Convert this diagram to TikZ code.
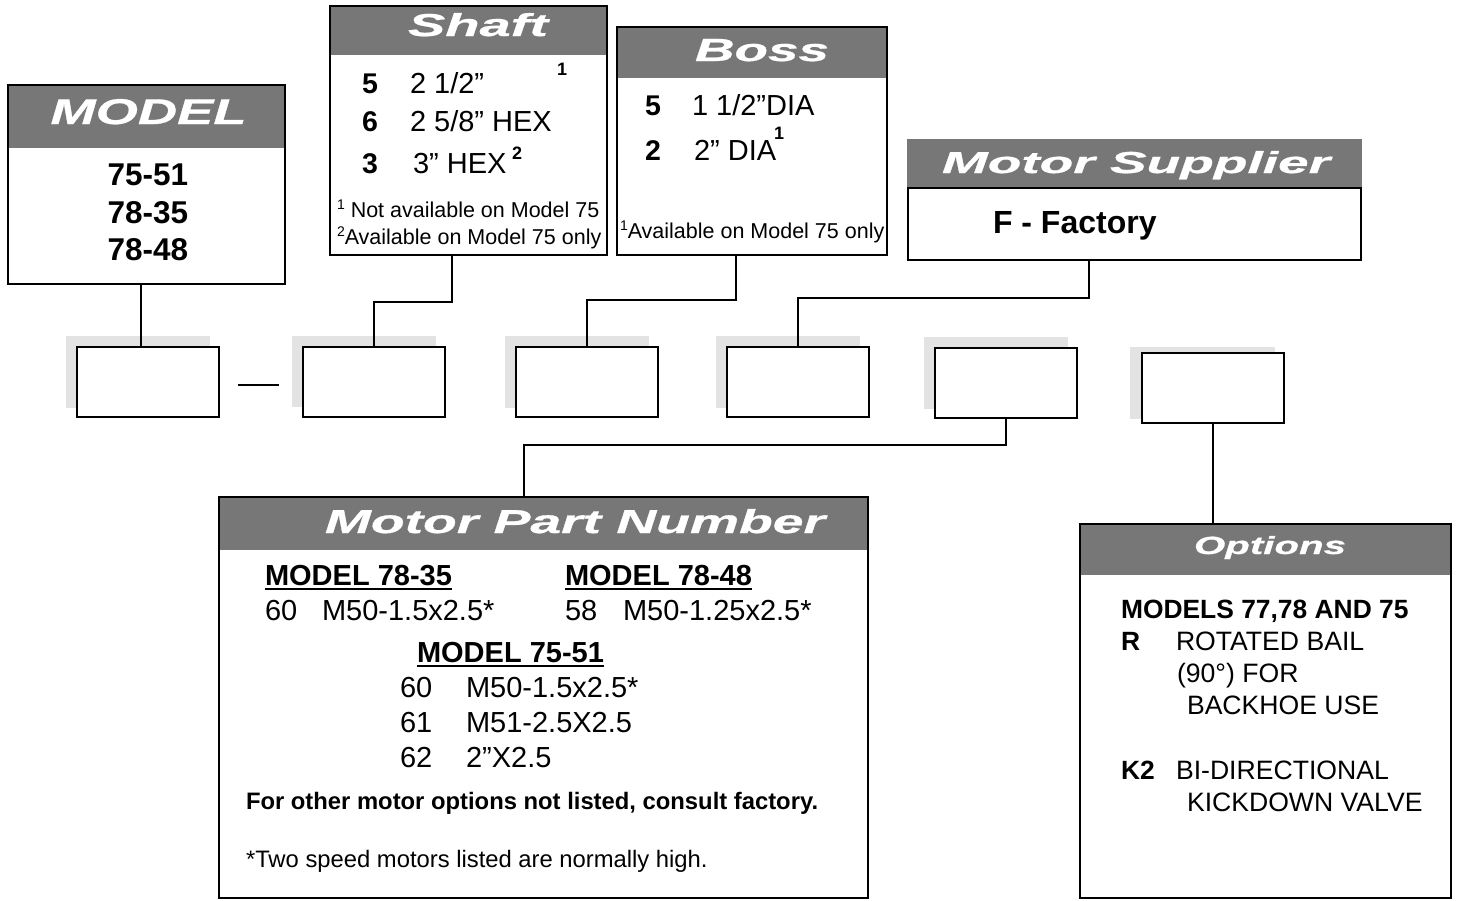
\documentclass[tikz,border=0pt]{standalone}
\usepackage{fontspec}
\setmainfont{Liberation Sans}
\newfontfamily\hdrfont[BoldItalicFeatures={FakeBold=0.6}]{Liberation Sans}
\usepackage{graphicx}
\usetikzlibrary{calc}
\pgfdeclarelayer{bg}
\pgfsetlayers{bg,main}
\definecolor{hdrgray}{RGB}{119,119,119}
\definecolor{shadowgray}{RGB}{227,227,227}
\newcommand\myfs[1]{\fontsize{#1pt}{#1pt}\selectfont}
\newcommand\hdr[3]{\resizebox{#1pt}{#2pt}{\hdrfont\bfseries\itshape #3}}
\newcommand\supn[1]{\raisebox{8pt}{\myfs{14}#1}}
\tikzset{
  bigbox/.style={draw=black, line width=2.4pt, inner sep=0pt, outer sep=0pt, anchor=north west},
  slot/.style={draw=black, line width=2.6pt, fill=white, inner sep=0pt, outer sep=0pt, minimum width=142pt, minimum height=70pt, anchor=north west},
  band/.style={fill=hdrgray},
  shadowfill/.style={fill=shadowgray},
  conn/.style={draw=black, line width=2.6pt},
  txt/.style={inner sep=0pt, outer sep=0pt, anchor=base west},
  ht/.style={inner sep=0pt, outer sep=0pt, anchor=base, text=white},
  uline/.style={line width=2pt},
}
\begin{document}
\begin{tikzpicture}[x=1pt, y=-1pt]
\useasboundingbox (0,0) rectangle (1457,900);

% ---------- big boxes ----------
\node[bigbox, minimum width=277pt, minimum height=199pt] (model) at (8,85) {};
\node[bigbox, minimum width=277pt, minimum height=249pt] (shaft) at (330,6) {};
\node[bigbox, minimum width=270pt, minimum height=228pt] (boss) at (617,27) {};
\node[bigbox, minimum width=453pt, minimum height=72pt] (supplier) at (908,188) {};
\node[bigbox, minimum width=649pt, minimum height=401pt] (mpn) at (219,497) {};
\node[bigbox, minimum width=371pt, minimum height=374pt] (options) at (1080,524) {};

% ---------- small slots ----------
\node[slot] (b1) at (77,347) {};
\node[slot] (b2) at (303,347) {};
\node[slot] (b3) at (516,347) {};
\node[slot] (b4) at (727,347) {};
\node[slot] (b5) at (935,348) {};
\node[slot] (b6) at (1142,353) {};

\begin{pgfonlayer}{bg}
  % header bands
  \fill[band] (model.north west) rectangle ([yshift=-63pt]model.north east);
  \fill[band] (shaft.north west) rectangle ([yshift=-49pt]shaft.north east);
  \fill[band] (boss.north west) rectangle ([yshift=-51pt]boss.north east);
  \fill[band] ([shift={(-1pt,49pt)}]supplier.north west) rectangle ([xshift=1pt]supplier.north east);
  \fill[band] (mpn.north west) rectangle ([yshift=-53pt]mpn.north east);
  \fill[band] (options.north west) rectangle ([yshift=-51pt]options.north east);
  % shadows
  \fill[shadowfill] ([shift={(-11pt,11pt)}]b1.north west) rectangle ([shift={(-9pt,9pt)}]b1.south east);
  \fill[shadowfill] ([shift={(-11pt,11pt)}]b2.north west) rectangle ([shift={(-9pt,10pt)}]b2.south east);
  \fill[shadowfill] ([shift={(-11pt,11pt)}]b3.north west) rectangle ([shift={(-9pt,9pt)}]b3.south east);
  \fill[shadowfill] ([shift={(-11pt,11pt)}]b4.north west) rectangle ([shift={(-9pt,9pt)}]b4.south east);
  \fill[shadowfill] ([shift={(-11pt,11pt)}]b5.north west) rectangle ([shift={(-9pt,9pt)}]b5.south east);
  \fill[shadowfill] ([shift={(-12pt,6pt)}]b6.north west) rectangle ([shift={(-9pt,4pt)}]b6.south east);
\end{pgfonlayer}

% ---------- headers ----------
\node[ht] (modelh) at (148.5,124) {\hdr{196}{25}{MODEL}};
\node[ht] (shafth) at (478,36) {\hdr{140}{23}{Shaft}};
\node[ht] (bossh) at (762,61) {\hdr{134}{22}{Boss}};
\node[ht] (supplierh) at (1136,173) {\hdr{388}{22}{Motor Supplier}};
\node[ht] (mpnh) at (575,533) {\hdr{500}{24}{Motor Part Number}};
\node[ht] (optionsh) at (1270,554) {\hdr{152}{18}{Options}};

% ---------- MODEL ----------
\node[txt, anchor=base, font=\bfseries\myfs{31.5}] (m1) at (148,185) {75-51};
\node[txt, anchor=base, font=\bfseries\myfs{31.5}] (m2) at (148,223) {78-35};
\node[txt, anchor=base, font=\bfseries\myfs{31.5}] (m3) at (148,260) {78-48};

% ---------- Shaft ----------
\node[txt, font=\bfseries\myfs{28.5}] (s5) at (362,93) {5};
\node[txt, font=\myfs{29}] (s5t) at (410,93) {2 1/2”};
\node[txt, font=\bfseries\myfs{18}] (s5n) at (557,75) {1};
\node[txt, font=\bfseries\myfs{28.5}] (s6) at (362,131) {6};
\node[txt, font=\myfs{29}] (s6t) at (410,131) {2 5/8” HEX};
\node[txt, font=\bfseries\myfs{28.5}] (s3) at (362,173) {3};
\node[txt, font=\myfs{29}] (s3t) at (413,173) {3” HEX};
\node[txt, font=\bfseries\myfs{18}] (s3n) at (512,159) {2};
\node[txt, font=\myfs{21.5}] (sf1) at (337,217) {\supn{1} Not available on Model 75};
\node[txt, font=\myfs{21.5}] (sf2) at (337,244) {\supn{2}Available on Model 75 only};

% ---------- Boss ----------
\node[txt, font=\bfseries\myfs{28.5}] (o5) at (645,115) {5};
\node[txt, font=\myfs{29}] (o5t) at (692,115) {1 1/2”DIA};
\node[txt, font=\bfseries\myfs{28.5}] (o2) at (645,160) {2};
\node[txt, font=\myfs{29}] (o2t) at (694,160) {2” DIA};
\node[txt, font=\bfseries\myfs{18}] (o2n) at (774,139) {1};
\node[txt, font=\myfs{21.5}] (of1) at (620,238) {\supn{1}Available on Model 75 only};

% ---------- Motor Supplier ----------
\node[txt, font=\bfseries\myfs{32}] (ff) at (993,233) {F - Factory};

% ---------- Motor Part Number ----------
\node[txt, font=\bfseries\myfs{29}] (u1) at (265,585) {MODEL 78-35};
\node[txt, font=\myfs{29}] (p1a) at (265,620) {60};
\node[txt, font=\myfs{29}] (p1b) at (322,620) {M50-1.5x2.5*};
\node[txt, font=\bfseries\myfs{29}] (u2) at (565,585) {MODEL 78-48};
\node[txt, font=\myfs{29}] (p2a) at (565,620) {58};
\node[txt, font=\myfs{29}] (p2b) at (623,620) {M50-1.25x2.5*};
\node[txt, font=\bfseries\myfs{29}] (u3) at (417,662) {MODEL 75-51};
\node[txt, font=\myfs{29}] (p3a) at (400,697) {60};
\node[txt, font=\myfs{29}] (p3b) at (466,697) {M50-1.5x2.5*};
\node[txt, font=\myfs{29}] (p4a) at (400,732) {61};
\node[txt, font=\myfs{29}] (p4b) at (466,732) {M51-2.5X2.5};
\node[txt, font=\myfs{29}] (p5a) at (400,767) {62};
\node[txt, font=\myfs{29}] (p5b) at (466,767) {2”X2.5};
\node[txt, font=\bfseries\myfs{23.8}] (note1) at (246,809) {For other motor options not listed, consult factory.};
\node[txt, font=\myfs{23.8}] (note2) at (246,867) {*Two speed motors listed are normally high.};
\foreach \u in {u1,u2,u3}
  \draw[uline] ([yshift=-4pt]\u.base west) -- ([yshift=-4pt]\u.base east);

% ---------- Options ----------
\node[txt, font=\bfseries\myfs{26.4}] (op0) at (1121,618) {MODELS 77,78 AND 75};
\node[txt, font=\bfseries\myfs{26.4}] (opr) at (1121,650) {R};
\node[txt, font=\myfs{26.6}] (opr1) at (1176,650) {ROTATED BAIL};
\node[txt, font=\myfs{26.6}] (opr2) at (1177,682) {(90°) FOR};
\node[txt, font=\myfs{26.6}] (opr3) at (1187,714) {BACKHOE USE};
\node[txt, font=\bfseries\myfs{26.4}] (opk) at (1121,779) {K2};
\node[txt, font=\myfs{26.6}] (opk1) at (1176,779) {BI-DIRECTIONAL};
\node[txt, font=\myfs{26.6}] (opk2) at (1187,811) {KICKDOWN VALVE};

% ---------- connectors ----------
\draw[conn] ([xshift=-7pt]b1.north) -- ([xshift=-7pt]b1.north |- model.south);
\draw[line width=2.6pt] ([shift={(19pt,-3pt)}]b1.east) -- ([shift={(-24pt,-3pt)}]b2.west);
\draw[conn] ([xshift=-16.5pt]shaft.south) -- ++(0,47) -| (b2.north);
\draw[conn] ([xshift=-16pt]boss.south) -- ++(0,45) -| (b3.north);
\draw[conn] ([xshift=-45.5pt]supplier.south) -- ++(0,38) -| (b4.north);
\draw[conn] (b5.south) -- ++(0,27) -| ([xshift=-19.5pt]mpn.north);
\draw[conn] (b6.south) -- (b6.south |- options.north);
\end{tikzpicture}
\end{document}
